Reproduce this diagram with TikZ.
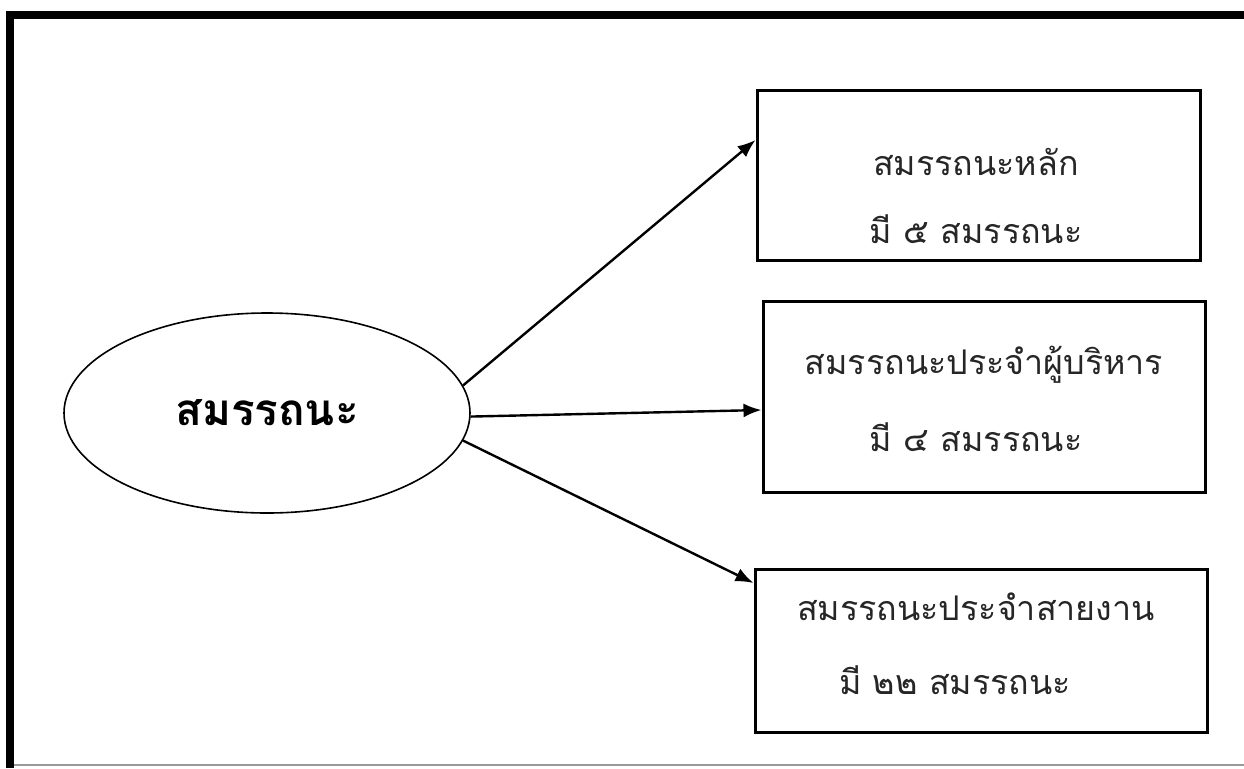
\documentclass[tikz,border=0pt]{standalone}
\usepackage{fontspec}
\setmainfont[Script=Thai]{Loma}
\usetikzlibrary{positioning, shapes.geometric, arrows.meta}

\tikzset{
    frameline/.style={line width=4pt},
    compbox/.style={draw, rectangle, line width=1.5pt, inner sep=0pt},
    main/.style={draw, ellipse, line width=0.8pt, inner sep=0pt,
                 minimum width=203pt, minimum height=100pt,
                 font=\bfseries\fontsize{22}{27}\selectfont},
    boxtext/.style={font=\fontsize{17}{21}\selectfont, text=black!85},
    link/.style={-{Latex[length=9pt, width=7pt]}, line width=1.2pt}
}

\begin{document}
\begin{tikzpicture}[x=0.5pt, y=-0.5pt]
    \useasboundingbox (0,0) rectangle (1244,768);
    % outer frame
    \draw[frameline] (10,768) -- (10,15) -- (1244,15);
    \draw[black!40, line width=0.8pt] (14,765) -- (1244,765);

    \node[main] (sm) at (267,413) {สมรรถนะ};

    \node[compbox, minimum width=221.5pt, minimum height=85pt] (core) at (978.5,175) {};
    \node[compbox, minimum width=221pt, minimum height=95.5pt] (exec) at (984,397) {};
    \node[compbox, minimum width=226pt, minimum height=81.5pt] (line) at (981,651) {};

    \node[boxtext] (core1) at (976,162) {สมรรถนะหลัก};
    \node[boxtext] (core2) at (976,229) {มี ๕ สมรรถนะ};
    \node[boxtext] (exec1) at (984,365) {สมรรถนะประจำผู้บริหาร};
    \node[boxtext] (exec2) at (976,437) {มี ๔ สมรรถนะ};
    \node[boxtext] (line1) at (976,607) {สมรรถนะประจำสายงาน};
    \node[boxtext] (line2) at (955,680) {มี ๒๒ สมรรถนะ};

    \draw[link] (sm.8) -- ([yshift=17.5pt]core.west);
    \draw[link] (sm.-1) -- ([yshift=-6.5pt]exec.west);
    \draw[link] (sm.-8) -- ([yshift=34pt]line.west);
\end{tikzpicture}
\end{document}
